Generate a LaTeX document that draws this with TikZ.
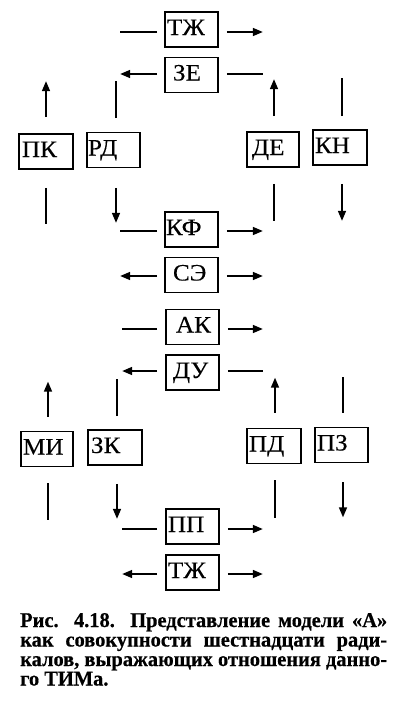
\documentclass[tikz,border=0pt]{standalone}
\usepackage{fontspec}
\setmainfont{Liberation Serif}
\newfontfamily\boxfont[FakeStretch=1.07,FakeBold=0.2]{Liberation Serif}
\newfontfamily\capfont{Liberation Serif}[BoldFeatures={FakeBold=0.5}]
\usepackage{graphicx}
\usetikzlibrary{arrows.meta}
\newsavebox\capbox
\newcommand\mycapline[1]{\scalebox{\capscale}[1]{\makebox[\wd\capbox][s]{#1}}}
\tikzset{
  box/.style={draw, line width=1.6pt, inner sep=0pt, text width=53pt, align=left,
    text height=23pt, text depth=12pt, font=\boxfont\fontsize{23.5}{24}\selectfont},
  ln/.style={line width=1.6pt},
  arr/.style={line width=1.6pt, -{Triangle[length=10pt,width=8pt]}},
  capt/.style={anchor=base west, inner sep=0pt, text height=14pt, text depth=4pt,
    font=\capfont\fontsize{21}{21}\selectfont\bfseries}
}
\begin{document}
\sbox\capbox{\capfont\fontsize{21}{21}\selectfont\bfseries калов, выражающих отношения данно-}%
\pgfmathsetmacro\capscale{367/\the\wd\capbox}%
\begin{tikzpicture}[x=1pt,y=-1pt]
\useasboundingbox (0,0) rectangle (395,704);
% upper block
\node[box] (tz1) at (191.5,29.5) {\hspace*{2pt}ТЖ};
\node[box] (ze) at (191.5,75) {\hspace*{8pt}ЗЕ};
\node[box] (kf) at (191.5,229.5) {\hspace*{1pt}КФ};
\node[box] (se) at (191.5,275) {\hspace*{8pt}СЭ};
\node[box, text width=54pt] (pk) at (46,151.5) {\hspace*{3pt}ПК};
\node[box] (rd) at (113.5,150) {\hspace*{1pt}РД};
\node[box, text width=52pt] (de) at (273,149.5) {\hspace*{5pt}ДЕ};
\node[box, text width=54pt] (kn) at (340,147.5) {\hspace*{2pt}КН};
% lower block
\node[box] (ak) at (192.5,327) {\hspace*{10pt}АК};
\node[box] (du) at (192.5,372.5) {\hspace*{7pt}ДУ};
\node[box] (pp) at (192.5,526.5) {\hspace*{2pt}ПП};
\node[box] (tz2) at (192.5,572.5) {\hspace*{2pt}ТЖ};
\node[box, text width=52pt] (mi) at (47,449) {\hspace*{2pt}МИ};
\node[box, text width=54pt] (zk) at (115,447.5) {\hspace*{3pt}ЗК};
\node[box, text width=54pt] (pd) at (274,446) {\hspace*{2pt}ПД};
\node[box] (pz) at (341.5,445) {\hspace*{2pt}ПЗ};
% horizontal connectors, upper
\draw[ln] (tz1.west) ++(-7,2.5) -- ++(-37,0);
\draw[arr] (tz1.east) ++(8,2.5) -- ++(36,0);
\draw[arr] (ze.west) ++(-7,-1) -- ++(-37,0);
\draw[ln] (ze.east) ++(8,-1) -- ++(36,0);
\draw[ln] (kf.west) ++(-7,1.5) -- ++(-37,0);
\draw[arr] (kf.east) ++(8,1.5) -- ++(36,0);
\draw[arr] (se.west) ++(-7,1) -- ++(-37,0);
\draw[arr] (se.east) ++(8,1) -- ++(36,0);
% vertical connectors, upper
\draw[arr] (pk.north) ++(0,-16) -- ++(0,-36);
\draw[ln] (pk.south) ++(0,18) -- ++(0,36);
\draw[ln] (rd.north) ++(2.5,-13.5) -- ++(0,-37);
\draw[arr] (rd.south) ++(2.5,19.5) -- ++(0,35);
\draw[arr] (de.north) ++(1,-15) -- ++(0,-37);
\draw[ln] (de.south) ++(1,16) -- ++(0,37);
\draw[ln] (kn.north) ++(2,-13) -- ++(0,-38);
\draw[arr] (kn.south) ++(2,18) -- ++(0,37);
% horizontal connectors, lower
\draw[ln] (ak.west) ++(-8,2) -- ++(-35,0);
\draw[arr] (ak.east) ++(8,2) -- ++(35,0);
\draw[arr] (du.west) ++(-8,-1.5) -- ++(-35,0);
\draw[ln] (du.east) ++(8,-1.5) -- ++(35,0);
\draw[ln] (pp.west) ++(-8,2.5) -- ++(-35,0);
\draw[arr] (pp.east) ++(8,2.5) -- ++(35,0);
\draw[arr] (tz2.west) ++(-8,1.5) -- ++(-35,0);
\draw[arr] (tz2.east) ++(8,1.5) -- ++(35,0);
% vertical connectors, lower
\draw[arr] (mi.north) ++(1,-14) -- ++(0,-35);
\draw[ln] (mi.south) ++(1,16) -- ++(0,37);
\draw[ln] (zk.north) ++(2,-13) -- ++(0,-37);
\draw[arr] (zk.south) ++(2,18) -- ++(0,35);
\draw[arr] (pd.north) ++(1,-15) -- ++(0,-35);
\draw[ln] (pd.south) ++(1,16) -- ++(0,38);
\draw[ln] (pz.north) ++(1.5,-14) -- ++(0,-36);
\draw[arr] (pz.south) ++(1.5,19) -- ++(0,35);
% caption
\node[capt] (cap1) at (20,627) {\mycapline{Рис. 4.18. Представление модели «А»}};
\node[capt] (cap2) at (20,646.5) {\mycapline{как совокупности шестнадцати ради-}};
\node[capt] (cap3) at (20,666) {\mycapline{калов, выражающих отношения данно-}};
\node[capt] (cap4) at (20,685.5) {\scalebox{\capscale}[1]{го ТИМа.}};
\end{tikzpicture}
\end{document}
